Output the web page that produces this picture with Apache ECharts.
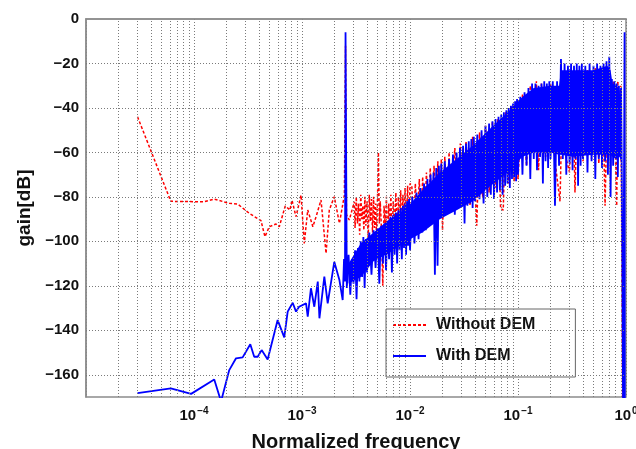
<!DOCTYPE html>
<html>
<head>
<meta charset="utf-8">
<script src="https://cdn.jsdelivr.net/npm/echarts@6/dist/echarts.min.js"></script>
<style>
  html, body { margin: 0; padding: 0; background: #fff; }
  #chart { width: 636px; height: 449px; }
</style>
</head>
<body>
<div id="chart"></div>
<script>
// Spectrum without dynamic element matching (red, dashed)
const withoutDemFreq = [
  3.0e-5, 6.1e-5, 1.24e-4, 1.54e-4, 2.12e-4, 2.54e-4, 3.25e-4, 4.17e-4, 4.54e-4, 4.98e-4,
  5.74e-4, 6.16e-4, 7.0e-4, 7.74e-4, 8.07e-4, 8.8e-4, 9.8e-4, 1.05e-3, 1.13e-3, 1.26e-3,
  1.35e-3, 1.5e-3, 1.67e-3, 1.79e-3, 1.99e-3, 2.22e-3, 2.47e-3, 2.53e-3, 2.58e-3, 2.74e-3,
  3.05e-3,
  0.00310, 0.00318, 0.00326, 0.00334, 0.00342, 0.00350, 0.00358, 0.00366, 0.00374, 0.00382,
  0.00390, 0.00400, 0.00410, 0.00420, 0.00430, 0.00440, 0.00450, 0.00460, 0.00470, 0.00480,
  0.00490, 0.00500, 0.00510, 0.00520, 0.00530, 0.00545, 0.00560, 0.00575, 0.00590, 0.00605,
  0.00620, 0.00635, 0.00650, 0.00665, 0.00680, 0.00700, 0.00720, 0.00740, 0.00760, 0.00780,
  0.00800, 0.00820, 0.00840, 0.00860, 0.00880, 0.00900, 0.00925, 0.00950, 0.00975, 0.01000,
  0.0104, 0.0108, 0.0112, 0.0117, 0.0122, 0.0126, 0.0131, 0.0136, 0.0142, 0.0148,
  0.0154, 0.0160, 0.0167, 0.0174, 0.0181, 0.0188, 0.0195, 0.0200, 0.021, 0.022,
  0.023, 0.024, 0.026, 0.028, 0.0292, 0.031, 0.033, 0.036, 0.038, 0.0415,
  0.044, 0.047, 0.050, 0.054, 0.058, 0.0612, 0.065, 0.069, 0.073, 0.077,
  0.082, 0.087, 0.092, 0.097, 0.100, 0.11, 0.12, 0.13, 0.14, 0.148,
  0.155, 0.165, 0.18, 0.20, 0.22, 0.245, 0.26, 0.28, 0.30, 0.32,
  0.337, 0.36, 0.40, 0.44, 0.48, 0.52, 0.56, 0.60, 0.64, 0.68,
  0.72, 0.76, 0.80, 0.82, 0.84, 0.86, 0.88, 0.895, 0.91, 0.93
];
const withoutDemGain = [
  -44, -82, -82.2, -81, -82.9, -83.2, -87.4, -90.7, -97.9, -93.4,
  -92.2, -93.4, -84.1, -85.9, -81.4, -88.9, -79.2, -100.9, -85.9, -93.4,
  -88.9, -81.4, -105.4, -85.9, -79.9, -91.9, -79.2, -12, -88, -90.4,
  -82.2,
  -94, -80, -92, -83, -97, -79, -90, -84, -95, -80,
  -93, -82, -99, -79, -91, -81, -96, -80, -94, -83,
  -98, -81, -60, -92, -82, -95, -120, -84, -93, -80,
  -106, -83, -97, -79, -101, -82, -95, -78, -99, -80,
  -94, -77, -100, -79, -96, -76, -93, -75, -95, -74,
  -75, -97, -74, -90, -72, -96, -71, -93, -69, -90,
  -67, -92, -66, -88, -64, -90, -63, -95, -62, -86,
  -60, -84, -58, -83, -56, -82, -55, -84, -53, -93,
  -51, -80, -48, -78, -46, -76, -45, -85, -86, -42,
  -74, -39, -73, -37, -72, -34, -66, -30, -60, -28,
  -68, -29, -62, -29, -64, -82, -24, -63, -69, -24,
  -78, -23, -64, -23, -63, -22, -65, -22, -84, -22,
  -62, -28, -63, -84, -28, -28, -60, -30, -86, -175
];

// Spectrum with dynamic element matching (blue, solid)
const withDemFreq = [
  3.0e-5, 6.1e-5, 9.4e-5, 1.54e-4, 1.78e-4, 2.12e-4, 2.45e-4, 2.82e-4, 3.32e-4, 3.61e-4,
  3.89e-4, 4.23e-4, 4.81e-4, 5.95e-4, 6.85e-4, 7.37e-4, 8.2e-4, 8.8e-4, 9.4e-4, 1.09e-3,
  1.13e-3, 1.21e-3, 1.30e-3, 1.40e-3, 1.45e-3, 1.61e-3, 1.73e-3, 1.99e-3, 2.22e-3, 2.38e-3,
  2.45e-3, 2.50e-3, 2.53e-3, 2.57e-3, 2.60e-3,
  0.0027, 0.0028, 0.0029, 0.0030, 0.0031, 0.0032, 0.0033, 0.0034, 0.0035, 0.0036,
  0.0037, 0.0038, 0.0039, 0.0040,
  0.0042, 0.0044, 0.0046, 0.0048, 0.0050, 0.0052, 0.0054, 0.0056, 0.0058, 0.0060,
  0.0062, 0.0064, 0.0066, 0.0068, 0.0070, 0.0072, 0.0074, 0.0076, 0.0078, 0.0080,
  0.0082, 0.0084, 0.0086, 0.0088, 0.0090, 0.0092, 0.0094, 0.0096, 0.0098, 0.0100,
  0.0105, 0.0110, 0.0115, 0.0120, 0.0125, 0.0130, 0.0135, 0.0140, 0.0145, 0.0150,
  0.0155, 0.0160, 0.0165, 0.0170, 0.0175, 0.0180, 0.0185, 0.0190, 0.0195, 0.0200,
  0.021, 0.022, 0.023, 0.024, 0.025, 0.026, 0.027, 0.028, 0.029, 0.030,
  0.031, 0.032, 0.033, 0.034, 0.035, 0.036, 0.037, 0.038, 0.039, 0.040,
  0.042, 0.044, 0.046, 0.048, 0.050, 0.052, 0.054, 0.056, 0.058, 0.060,
  0.062, 0.064, 0.066, 0.068, 0.070, 0.072, 0.074, 0.076, 0.078, 0.080,
  0.082, 0.084, 0.086, 0.088, 0.090, 0.092, 0.094, 0.096, 0.098, 0.100,
  0.105, 0.110, 0.115, 0.120, 0.125, 0.130, 0.135, 0.140, 0.145, 0.150,
  0.155, 0.160, 0.165, 0.170, 0.175, 0.180, 0.185, 0.190, 0.195, 0.200,
  0.21, 0.22, 0.23, 0.24, 0.25, 0.26, 0.27, 0.28, 0.29, 0.30,
  0.31, 0.32, 0.33, 0.34, 0.35, 0.36, 0.37, 0.38, 0.39, 0.40,
  0.42, 0.44, 0.46, 0.48, 0.50, 0.52, 0.54, 0.56, 0.58, 0.60,
  0.62, 0.64, 0.66, 0.68, 0.70, 0.72, 0.74, 0.76, 0.78, 0.80,
  0.82, 0.84, 0.86, 0.88, 0.90, 0.91, 0.92, 0.94, 0.97, 0.975
];
const withDemGain = [
  -168.3, -166.1, -168.6, -162.1, -172, -157.9, -152.6, -152.2, -146.3, -151.9,
  -151.9, -148.9, -153.1, -135.4, -143.2, -131.6, -127.6, -131.6, -129.4, -127.9,
  -133.9, -121.1, -129.4, -118.1, -134.6, -115.9, -127.9, -109.2, -117.4, -126.4,
  -108, -118, -6, -6, -121,
  -106, -124, -108, -119, -104, -126, -103, -118, -100, -116,
  -98, -121, -99, -114,
  -96, -115, -95, -112, -94, -119, -93, -110, -92, -113,
  -91, -108, -89, -114, -88, -106, -87, -110, -86, -104,
  -85, -108, -84, -103, -83, -106, -82, -102, -81, -104,
  -80, -101, -78, -99, -76, -96, -74, -95, -72, -93,
  -70, -92, -69, -115, -67, -111, -66, -89, -65, -88,
  -64, -87, -63, -86, -61, -88, -60, -85, -58, -84,
  -57, -92, -56, -84, -55, -83, -54, -85, -53, -82,
  -52, -81, -50, -83, -48, -80, -47, -79, -46, -81,
  -45, -78, -44, -77, -43, -79, -42, -75, -41, -74,
  -40, -76, -39, -72, -38, -71, -37, -73, -36, -70,
  -35, -70, -33, -66, -31, -72, -29, -63, -29, -68,
  -30, -62, -29, -74, -28, -64, -29, -67, -28, -63,
  -28, -84, -28, -66, -18, -63, -20, -70, -21, -65,
  -20, -68, -21, -63, -20, -75, -21, -66, -20, -63,
  -21, -69, -20, -64, -21, -72, -20, -63, -21, -67,
  -20, -64, -19, -70, -17, -80, -27, -66, -28, -62,
  -29, -71, -30, -60, -31, -57, -95, -175, -6, -175
];

// Solid body of the "With DEM" spectrum, where the bins are too dense to separate
const withDemCoreFreq = [
  0.0027, 0.0035, 0.0046, 0.0065, 0.0093, 0.013, 0.019, 0.027, 0.038, 0.056,
  0.08, 0.11, 0.14, 0.20, 0.24, 0.25, 0.32, 0.50, 0.67, 0.72,
  0.75, 0.81, 0.87, 0.90
];
const withDemCoreTop = [
  -110, -101, -96, -90, -85, -77, -69, -63, -57, -49,
  -42, -35, -31, -30, -30, -23, -23, -23, -21, -23,
  -29, -30, -32, -40
];
const withDemCoreBottom = [
  -119, -116, -109, -105, -100, -96, -90, -86, -82, -75,
  -69, -62, -60, -60, -61, -61, -62, -61, -61, -61,
  -62, -63, -62, -64
];

// Axis ticks and grid positions
const yLabelValues = [0, -20, -40, -60, -80, -100, -120, -140, -160];
const yGridValues = [-20, -40, -60, -80, -100, -120, -140, -160];
const xDecades = [1e-5, 1e-4, 1e-3, 1e-2, 1e-1];
const xMinorSteps = [2, 3, 4, 5, 6, 7, 8, 9];

const toPairs = (xs, ys) => xs.map((x, i) => [x, ys[i]]);
const minus = s => String(s).replace('-', '\u2212');

const gridStyle = { color: '#7a7a7a', width: 1, type: [1, 2] };
const gridLines = [];
xDecades.forEach(d => xMinorSteps.forEach(m => gridLines.push({ xAxis: d * m })));
yGridValues.forEach(v => gridLines.push({ yAxis: v }));

const font = '"Liberation Sans", Arial, sans-serif';

const chart = echarts.init(document.getElementById('chart'), null, { renderer: 'canvas' });
chart.setOption({
  animation: false,
  backgroundColor: '#fff',
  grid: {
    left: 86, right: 10, top: 19, bottom: 52,
    show: true, borderColor: '#8c8c8c', borderWidth: 1.5,
    containLabel: false, outerBoundsMode: 'none'
  },
  legend: {
    data: ['Without DEM', 'With DEM'],
    orient: 'vertical',
    left: 386, top: 309,
    padding: [8, 40, 13, 6],
    itemWidth: 33, itemHeight: 14, itemGap: 15,
    backgroundColor: '#fff',
    borderColor: '#666', borderWidth: 1,
    itemStyle: { opacity: 0 },
    textStyle: { fontFamily: font, fontWeight: 'bold', fontSize: 16, color: '#111', padding: [0, 0, 0, 5] }
  },
  xAxis: {
    type: 'log', logBase: 10, min: 1e-5, max: 1,
    axisLine: { show: true, lineStyle: { color: '#8c8c8c', width: 1.5 } },
    axisTick: { show: false },
    splitLine: { show: true, lineStyle: gridStyle },
    axisLabel: {
      margin: 9,
      color: '#111',
      formatter: v => {
        const e = Math.round(Math.log10(v));
        if (e === -5) return '';
        return '{b|10}{s|' + minus(e) + '}';
      },
      rich: {
        b: { fontFamily: font, fontWeight: 'bold', fontSize: 15, color: '#111' },
        s: { fontFamily: font, fontWeight: 'bold', fontSize: 10, color: '#111', padding: [0, 0, 9, 1] }
      }
    },
    name: 'Normalized frequency',
    nameLocation: 'middle',
    nameGap: 35,
    nameTextStyle: { fontFamily: font, fontWeight: 'bold', fontSize: 20, color: '#111' }
  },
  yAxis: {
    type: 'value', min: -170, max: 0, interval: 10,
    axisLine: { show: true, lineStyle: { color: '#8c8c8c', width: 1.5 } },
    axisTick: { show: false },
    splitLine: { show: false },
    axisLabel: {
      margin: 7,
      color: '#111',
      fontFamily: font, fontWeight: 'bold', fontSize: 15,
      formatter: v => (yLabelValues.indexOf(v) >= 0 ? minus(v) : '')
    },
    name: 'gain[dB]',
    nameLocation: 'middle',
    nameRotate: 90,
    nameGap: 43,
    nameTextStyle: { fontFamily: font, fontWeight: 'bold', fontSize: 19, color: '#111' }
  },
  series: [
    {
      name: '_grid',
      type: 'line',
      z: 1,
      symbol: 'none',
      data: [[1e-5, -170]],
      silent: true,
      markLine: {
        silent: true,
        symbol: 'none',
        precision: 12,
        label: { show: false },
        lineStyle: gridStyle,
        emphasis: { disabled: true },
        data: gridLines
      }
    },
    {
      name: 'Without DEM',
      type: 'line',
      z: 2,
      symbol: 'none',
      showSymbol: false,
      sampling: false,
      lineStyle: { color: '#ff0000', width: 1.5, type: [3, 2] },
      itemStyle: { color: '#ff0000' },
      data: toPairs(withoutDemFreq, withoutDemGain)
    },
    {
      name: '_core',
      type: 'custom',
      z: 3,
      silent: true,
      data: withDemCoreFreq.map((f, i) => [f, withDemCoreTop[i], withDemCoreBottom[i]]),
      encode: { x: 0, y: [1, 2] },
      renderItem: (params, api) => {
        if (params.dataIndex !== 0) return null;
        const pts = [];
        for (let i = 0; i < withDemCoreFreq.length; i++) {
          pts.push(api.coord([withDemCoreFreq[i], withDemCoreTop[i]]));
        }
        for (let i = withDemCoreFreq.length - 1; i >= 0; i--) {
          pts.push(api.coord([withDemCoreFreq[i], withDemCoreBottom[i]]));
        }
        return { type: 'polygon', shape: { points: pts }, style: { fill: '#0000ff' } };
      }
    },
    {
      name: 'With DEM',
      type: 'line',
      z: 4,
      symbol: 'none',
      showSymbol: false,
      lineStyle: { color: '#0000ff', width: 1.8 },
      itemStyle: { color: '#0000ff' },
      data: toPairs(withDemFreq, withDemGain)
    }
  ]
});
</script>
</body>
</html>
